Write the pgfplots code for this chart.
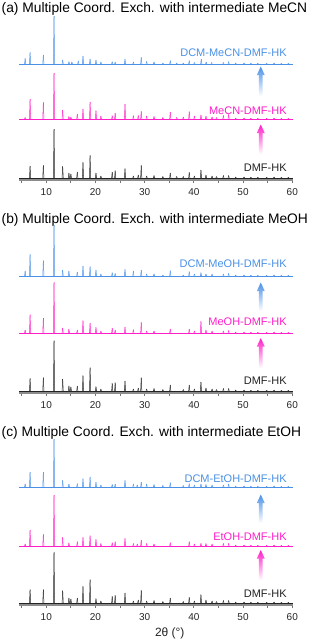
\documentclass[border=0pt]{standalone}
\usepackage{fontspec}
\setmainfont{Liberation Sans}
\usepackage{pgfplots}
\usepackage{pgfplotstable}
\pgfplotsset{compat=1.18}
\definecolor{cblue}{RGB}{74,144,230}
\definecolor{cpink}{RGB}{255,30,200}
\definecolor{cblack}{RGB}{35,35,35}

% peak lists: position (2theta), height
\pgfplotstableread{
x h
6.7 12
9.4 12.7
11.57 49
13.33 11.7
14.6 5
15.0 4
16.3 6
17.46 15.7
18.9 22.7
20.1 5
21.1 2
23.4 6
24.0 7.3
26.0 9.3
27.7 2
28.7 3
29.3 12.7
30.4 2
31.9 2.5
33.7 1.5
35.2 5
36.5 1.5
37.85 1.5
39.06 5.7
40.1 2
41.44 8
42.46 3
43.7 2
44.6 1.5
46.0 2.5
47.07 2.5
48.5 1
50.2 1
51.6 0.8
53.0 0.8
54.8 0.8
56.3 1
57.8 0.8
59.2 0.8
}\Ka
\pgfplotstableread{
x h
5.7 1.5
6.7 20
9.4 16.7
11.57 46
13.33 9
14.6 2.5
15.0 2
16.3 5
17.46 10
18.9 17
20.1 8.3
21.1 3
23.4 3.3
24.0 6
26.0 15
27.7 3.3
28.7 3.5
29.3 7.7
30.4 3
31.9 2.7
33.7 1.5
35.2 7
36.5 1.5
37.85 2
39.06 7.3
40.1 3
41.44 4
42.46 3
43.7 2
44.6 1.5
46.0 3.5
47.07 4.5
48.5 1
50.2 1
51.6 0.8
53.0 0.8
54.8 0.8
56.3 1
57.8 0.8
59.2 0.8
}\Pa
\pgfplotstableread{
x h
5.7 5.7
6.7 11.7
9.4 9
11.57 48
13.33 4
14.6 2.3
15.2 2
16.5 3
17.46 8
18.9 5
20.1 4
21.1 2
23.4 2.3
24.0 2
26.0 5
27.7 2
29.3 6.7
30.4 2.7
31.9 2
33.7 1
35.2 3.3
36.5 1
37.85 1
39.06 3.3
40.1 1.5
41.5 5
42.5 2
43.6 1.5
46.0 1.5
47.07 2.3
48.5 1
50.2 1
51.6 0.8
53.0 0.8
54.8 0.8
56.3 1
57.8 0.8
59.2 0.8
}\Ba
\pgfplotstableread{
x h
6.7 12.7
9.4 13.3
11.57 50.3
13.33 12
14.6 5
15.0 4
16.3 5
17.46 15.3
18.9 23.3
20.1 4.3
21.1 2
23.4 7.7
24.0 8.3
26.0 10
27.7 2
28.7 3
29.3 13.3
30.4 2
31.9 2.5
33.7 1.5
35.2 6
37.85 1.5
39.06 6
40.1 2
41.44 9
42.46 3
43.7 2
44.6 1.5
46.0 2.5
47.07 2.5
48.5 1
50.2 1
51.6 0.8
53.0 0.8
54.8 0.8
56.3 1
57.8 0.8
59.2 0.8
}\Kb
\pgfplotstableread{
x h
5.7 3
6.7 18.3
9.4 15
11.57 50.7
13.33 5
14.6 4
16.3 3
17.46 12.3
18.9 10
20.1 5.7
21.1 2
23.4 5
24.0 3
26.0 6
27.7 3.3
29.3 10.7
30.4 2
31.9 2
35.2 4
39.06 4
40.1 2
41.44 11.7
42.46 3
43.7 2
46.0 2
47.07 2.5
48.5 1
50.2 1
51.6 0.8
53.0 0.8
54.8 0.8
56.3 1
57.8 0.8
59.2 0.8
}\Pb
\pgfplotstableread{
x h
5.7 5
6.7 21.7
9.4 15.3
11.57 51
13.33 6
14.6 5
16.3 4
17.46 10
18.9 9.3
20.1 6
21.1 2
23.4 3.3
24.0 2.5
26.0 6.7
27.7 5
29.3 6
30.4 2
31.9 2
33.7 1
35.2 5.3
37.85 1
39.06 4.3
40.1 2
41.44 3.3
42.46 2
43.7 2
46.0 2
47.07 2.7
48.5 1
50.2 1
51.6 0.8
53.0 0.8
54.8 0.8
56.3 1
57.8 0.8
59.2 0.8
}\Bb
\pgfplotstableread{
x h
6.7 13.3
9.4 13.3
11.57 50.7
13.33 12.3
14.6 5
15.0 4
16.3 5
17.46 16.7
18.9 23.3
20.1 4.3
21.1 2
23.4 6.7
24.0 7.7
26.0 10
27.7 2
28.7 3
29.3 12.7
30.4 2
31.9 2.5
33.7 1.5
35.2 5
37.85 1.5
39.06 5.7
40.1 2
41.44 8.3
42.46 3
43.7 2
44.6 1.5
46.0 2.5
47.07 2.5
48.5 1
50.2 1
51.6 0.8
53.0 0.8
54.8 0.8
56.3 1
57.8 0.8
59.2 0.8
}\Kc
\pgfplotstableread{
x h
5.7 2
6.7 16
9.4 11.7
11.57 51
13.33 8.7
14.6 3
16.3 4.3
17.46 8.7
18.9 10.3
20.1 6.7
21.1 2.5
23.4 3.3
24.0 4.3
26.0 7.7
27.7 2.5
28.5 2
29.3 6
30.4 2.5
31.9 2
35.2 3.3
39.06 4.3
40.1 2
41.44 2.7
42.46 2.5
43.7 2
46.0 2.5
47.07 2.7
48.5 1
50.2 1
51.6 0.8
53.0 0.8
54.8 0.8
56.3 1
57.8 0.8
59.2 0.8
}\Pc
\pgfplotstableread{
x h
5.7 3
6.7 15
9.4 15
11.57 48
13.33 6.7
14.6 3
16.3 3.3
17.46 8.3
18.9 10
20.1 5
21.1 2
23.4 2.5
24.0 3
26.0 6.7
27.7 3
28.5 2
29.3 5
30.4 3
31.9 2.5
33.7 1.5
35.2 4.3
37.85 1.5
39.06 3.3
40.1 2
41.44 3
42.46 2.5
43.7 2
46.0 2
47.07 3
48.5 1
50.2 1
51.6 0.8
53.0 0.8
54.8 0.8
56.3 1
57.8 0.8
59.2 0.8
}\Bc

\pgfplotsset{
  panel/.style={
    scale only axis, width=274pt, height=170pt,
    xmin=4.5, xmax=60.2, ymin=0, ymax=170,
    axis x line=bottom, axis y line=none,
    x axis line style={-, line width=1.4pt, color=black!45},
    xtick={10,20,...,60}, minor xtick={5,15,...,55},
    tick align=outside, major tick length=3pt, minor tick length=3pt,
    every tick/.style={black!55, line width=0.8pt},
    xticklabel style={font=\fontsize{10}{10}\selectfont, text=black!85, yshift=-2pt},
    /pgf/number format/assume math mode=true,
    clip=false,
  },
  pkL/.style={line width=0.5pt, quiver={u=0.12, v=\thisrow{h}}},
  pkR/.style={line width=0.5pt, quiver={u=-0.12, v=\thisrow{h}}},
  bl/.style={line width=0.7pt},
}
\tikzset{lab/.style={anchor=base east, inner sep=0pt, font=\fontsize{11}{12}\selectfont}}
% one pattern: colour, baseline offset, peak table
\newcommand{\xrdpat}[3]{%
  \addplot[#1, bl] coordinates {(4.5,#2) (60.1,#2)};
  \addplot[#1, pkL] table[x expr=\thisrow{x}-0.12, y expr=#2] {#3};
  \addplot[#1, pkR] table[x expr=\thisrow{x}+0.12, y expr=#2] {#3};
}

\newcommand{\titlefont}{\fontsize{13.8}{15}\selectfont}

\begin{document}
\begin{tikzpicture}
\path[use as bounding box] (0pt,0pt) rectangle (311pt,-641pt);

\node[anchor=base west, inner sep=0pt, font=\titlefont] at (1.5pt,-12.5pt) {(a) Multiple Coord. Exch. with intermediate MeCN};
\node[anchor=base west, inner sep=0pt, font=\titlefont] at (1.5pt,-223pt) {(b) Multiple Coord. Exch. with intermediate MeOH};
\node[anchor=base west, inner sep=0pt, font=\titlefont] at (1.5pt,-436.5pt) {(c) Multiple Coord. Exch. with intermediate EtOH};

% ---------- panel (a)
\begin{axis}[panel, at={(19.24pt,-180pt)}, anchor=south west]
\xrdpat{cblack}{2}{\Ka}
\xrdpat{cpink}{61}{\Pa}
\xrdpat{cblue}{116}{\Ba}
\node[lab, text=cblue] at (axis cs:58.9,124) {DCM-MeCN-DMF-HK};
\node[lab, text=cpink] at (axis cs:58.9,66) {MeCN-DMF-HK};
\node[lab, text=cblack] at (axis cs:58.9,8.3) {DMF-HK};
\shade[top color=cblue, bottom color=white] (axis cs:53.2,84) -- (axis cs:53.2,105) -- (axis cs:52.8,105) -- (axis cs:53.6,113.5) -- (axis cs:54.4,105) -- (axis cs:54.0,105) -- (axis cs:54.0,84) -- cycle;
\shade[top color=cpink, bottom color=white] (axis cs:53.2,26) -- (axis cs:53.2,47) -- (axis cs:52.8,47) -- (axis cs:53.6,55.5) -- (axis cs:54.4,47) -- (axis cs:54.0,47) -- (axis cs:54.0,26) -- cycle;
\end{axis}

% ---------- panel (b)
\begin{axis}[panel, at={(19.24pt,-393pt)}, anchor=south west]
\xrdpat{cblack}{2}{\Kb}
\xrdpat{cpink}{60}{\Pb}
\xrdpat{cblue}{117}{\Bb}
\node[lab, text=cblue] at (axis cs:58.9,125.7) {DCM-MeOH-DMF-HK};
\node[lab, text=cpink] at (axis cs:58.9,67.3) {MeOH-DMF-HK};
\node[lab, text=cblack] at (axis cs:58.9,9) {DMF-HK};
\shade[top color=cblue, bottom color=white] (axis cs:53.2,82) -- (axis cs:53.2,102) -- (axis cs:52.8,102) -- (axis cs:53.6,110.5) -- (axis cs:54.4,102) -- (axis cs:54.0,102) -- (axis cs:54.0,82) -- cycle;
\shade[top color=cpink, bottom color=white] (axis cs:53.2,25) -- (axis cs:53.2,46.5) -- (axis cs:52.8,46.5) -- (axis cs:53.6,55) -- (axis cs:54.4,46.5) -- (axis cs:54.0,46.5) -- (axis cs:54.0,25) -- cycle;
\end{axis}

% ---------- panel (c)
\begin{axis}[panel, at={(19.24pt,-605pt)}, anchor=south west]
\xrdpat{cblack}{2}{\Kc}
\xrdpat{cpink}{59}{\Pc}
\xrdpat{cblue}{118}{\Bc}
\node[lab, text=cblue] at (axis cs:58.9,122.3) {DCM-EtOH-DMF-HK};
\node[lab, text=cpink] at (axis cs:58.9,64.3) {EtOH-DMF-HK};
\node[lab, text=cblack] at (axis cs:58.9,7.7) {DMF-HK};
\shade[top color=cblue, bottom color=white] (axis cs:53.2,82) -- (axis cs:53.2,102) -- (axis cs:52.8,102) -- (axis cs:53.6,110.5) -- (axis cs:54.4,102) -- (axis cs:54.0,102) -- (axis cs:54.0,82) -- cycle;
\shade[top color=cpink, bottom color=white] (axis cs:53.2,25) -- (axis cs:53.2,46.5) -- (axis cs:52.8,46.5) -- (axis cs:53.6,55) -- (axis cs:54.4,46.5) -- (axis cs:54.0,46.5) -- (axis cs:54.0,25) -- cycle;
\node[font=\fontsize{12}{13}\selectfont, text=cblack] at (axis cs:35.1,-28) {2θ (°)};
\end{axis}
\end{tikzpicture}
\end{document}
